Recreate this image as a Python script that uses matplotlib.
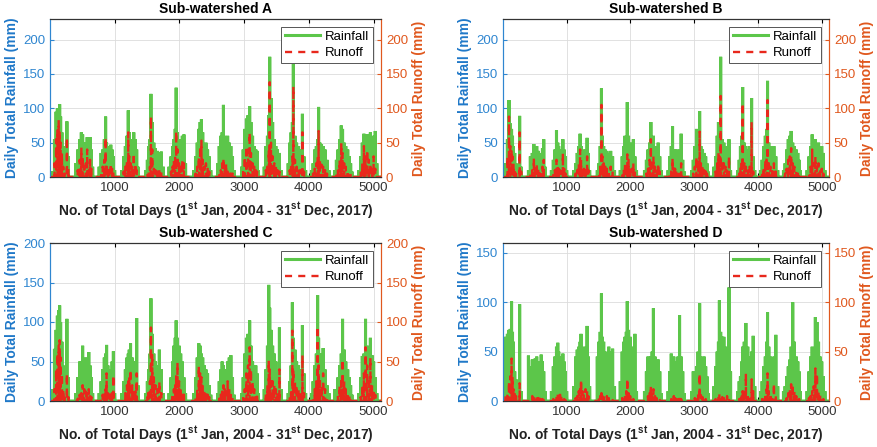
import numpy as np
import matplotlib
matplotlib.use("Agg")
import matplotlib.pyplot as plt
from matplotlib.lines import Line2D

plt.rcParams['font.family'] = ['Liberation Sans', 'DejaVu Sans']
plt.rcParams['mathtext.fontset'] = 'custom'
plt.rcParams['mathtext.rm'] = 'Liberation Sans'
plt.rcParams['mathtext.bf'] = 'Liberation Sans:bold'

# daily record, 1 Jan 2004 - 31 Dec 2017
n_days = 5114

# days (day number) of the rain events, one row per year
rain_days = [
    40, 70, 95, 115, 135, 150, 165, 185, 205, 225, 262, 285,
    400, 430, 460, 485, 505, 530, 555, 575, 600, 620, 640, 660,
    760, 790, 815, 840, 860, 875, 895, 915, 940, 960, 980, 1000,
    1110, 1140, 1165, 1190, 1210, 1225, 1245, 1270, 1295, 1320, 1340, 1360,
    1480, 1505, 1525, 1545, 1560, 1580, 1605, 1630, 1660, 1690, 1720, 1750,
    1840, 1870, 1895, 1915, 1935, 1950, 1970, 1995, 2020, 2045, 2070, 2095,
    2220, 2250, 2275, 2300, 2320, 2340, 2360, 2385, 2410, 2435, 2460, 2485,
    2590, 2615, 2640, 2660, 2680, 2700, 2720, 2745, 2770, 2795, 2820, 2845,
    2960, 2985, 3010, 3035, 3060, 3085, 3105, 3130, 3155, 3180, 3200, 3220,
    3310, 3335, 3360, 3380, 3395, 3415, 3440, 3465, 3490, 3515, 3545, 3570,
    3680, 3705, 3725, 3745, 3760, 3785, 3810, 3840, 3870, 3900, 3925, 3950,
    4040, 4065, 4090, 4115, 4135, 4150, 4170, 4195, 4220, 4250, 4280, 4310,
    4400, 4425, 4450, 4475, 4500, 4520, 4545, 4570, 4600, 4625, 4645, 4665,
    4770, 4800, 4825, 4850, 4875, 4900, 4925, 4950, 4975, 5000, 5025, 5050,
]

# daily rainfall (mm) on those days
rain_A = [
    8, 55, 95, 100, 92, 106, 88, 65, 45, 20, 81, 30,
    20, 40, 55, 65, 62, 50, 45, 58, 35, 58, 40, 15,
    15, 35, 40, 55, 88, 50, 45, 38, 47, 40, 30, 10,
    10, 30, 45, 60, 97, 65, 55, 50, 65, 55, 40, 15,
    10, 25, 45, 55, 121, 80, 50, 42, 38, 36, 37, 15,
    15, 30, 45, 55, 70, 130, 65, 55, 50, 60, 62, 20,
    10, 30, 50, 70, 80, 84, 65, 45, 50, 40, 30, 10,
    20, 45, 60, 65, 105, 60, 55, 60, 50, 45, 30, 10,
    15, 40, 70, 85, 90, 103, 80, 60, 45, 40, 38, 10,
    15, 45, 60, 90, 175, 115, 80, 55, 45, 40, 35, 10,
    20, 50, 65, 80, 170, 60, 50, 45, 40, 92, 30, 10,
    10, 20, 40, 45, 55, 102, 50, 48, 45, 40, 25, 10,
    10, 25, 40, 55, 75, 70, 50, 45, 40, 30, 20, 8,
    10, 30, 50, 63, 55, 62, 50, 65, 45, 60, 67, 20,
]
rain_B = [
    20, 55, 112, 78, 70, 60, 45, 35, 20, 10, 89, 15,
    10, 30, 35, 48, 40, 45, 38, 35, 30, 42, 55, 15,
    10, 25, 40, 68, 50, 45, 40, 35, 55, 40, 30, 10,
    10, 20, 35, 45, 63, 45, 40, 35, 40, 57, 35, 10,
    10, 20, 45, 129, 60, 45, 40, 38, 35, 38, 30, 10,
    10, 30, 45, 60, 55, 109, 60, 50, 45, 55, 30, 10,
    10, 25, 40, 50, 80, 45, 60, 45, 40, 50, 30, 10,
    10, 30, 45, 74, 40, 35, 40, 35, 40, 63, 25, 8,
    10, 25, 45, 70, 60, 96, 45, 40, 35, 30, 20, 8,
    15, 30, 60, 80, 70, 175, 55, 50, 45, 40, 55, 10,
    10, 25, 45, 60, 131, 50, 45, 40, 45, 115, 30, 10,
    10, 25, 45, 60, 70, 140, 50, 45, 40, 45, 30, 10,
    10, 20, 40, 55, 60, 67, 50, 45, 40, 35, 25, 10,
    10, 30, 45, 62, 50, 55, 45, 50, 40, 45, 35, 10,
]
rain_C = [
    15, 66, 90, 108, 115, 121, 100, 75, 45, 20, 104, 30,
    10, 30, 50, 45, 70, 50, 55, 45, 62, 45, 30, 10,
    10, 25, 40, 55, 60, 71, 45, 40, 40, 50, 63, 10,
    10, 25, 40, 55, 60, 65, 73, 55, 50, 45, 105, 20,
    10, 25, 40, 60, 130, 85, 60, 50, 45, 65, 40, 10,
    10, 30, 50, 70, 80, 102, 80, 70, 60, 50, 30, 10,
    10, 30, 55, 73, 70, 60, 55, 45, 40, 35, 20, 8,
    10, 25, 40, 50, 45, 35, 40, 50, 55, 58, 30, 8,
    10, 30, 60, 80, 85, 102, 70, 50, 45, 45, 35, 10,
    15, 40, 70, 147, 118, 90, 70, 60, 50, 40, 93, 15,
    10, 25, 45, 125, 80, 65, 50, 45, 40, 96, 35, 10,
    10, 25, 45, 60, 134, 80, 60, 50, 67, 40, 20, 10,
    15, 15, 30, 45, 60, 104, 65, 50, 40, 30, 20, 8,
    10, 30, 57, 60, 104, 70, 60, 80, 58, 50, 30, 10,
]
rain_D = [
    65, 68, 72, 73, 101, 70, 60, 30, 22, 15, 98, 10,
    46, 35, 42, 40, 43, 45, 38, 40, 47, 40, 30, 10,
    10, 35, 45, 55, 59, 50, 45, 40, 48, 40, 30, 10,
    15, 45, 52, 55, 60, 68, 55, 50, 55, 76, 45, 15,
    45, 60, 70, 109, 65, 60, 50, 45, 55, 50, 53, 15,
    20, 50, 60, 65, 70, 101, 72, 65, 55, 50, 68, 10,
    10, 30, 45, 40, 45, 50, 94, 45, 40, 42, 30, 8,
    10, 30, 48, 40, 45, 40, 35, 45, 87, 45, 30, 8,
    10, 30, 30, 35, 50, 99, 45, 40, 45, 35, 25, 8,
    15, 35, 50, 60, 102, 70, 65, 65, 55, 45, 115, 30,
    10, 20, 25, 40, 55, 60, 79, 55, 45, 50, 66, 15,
    10, 20, 35, 45, 60, 90, 55, 45, 40, 45, 67, 15,
    10, 15, 25, 35, 42, 55, 100, 60, 45, 40, 30, 10,
    10, 30, 45, 55, 45, 85, 80, 60, 45, 40, 25, 10,
]

# daily runoff (mm) on the same days
runoff_A = [
    0, 20, 55, 70, 83, 68, 50, 35, 15, 5, 58, 12,
    0, 10, 25, 43, 30, 15, 20, 40, 10, 25, 12, 0,
    0, 8, 15, 25, 58, 20, 15, 10, 20, 12, 8, 0,
    0, 8, 15, 25, 65, 30, 20, 15, 35, 20, 10, 0,
    0, 5, 10, 15, 88, 40, 12, 10, 8, 10, 8, 0,
    0, 8, 15, 25, 30, 67, 40, 20, 15, 25, 20, 0,
    0, 5, 15, 30, 45, 53, 25, 15, 20, 12, 8, 0,
    0, 5, 10, 20, 28, 15, 20, 10, 8, 5, 5, 0,
    0, 10, 30, 45, 40, 65, 35, 20, 15, 10, 8, 0,
    0, 10, 20, 40, 138, 50, 30, 20, 15, 10, 8, 0,
    0, 10, 20, 30, 132, 25, 15, 12, 10, 65, 8, 0,
    0, 5, 12, 20, 30, 67, 25, 18, 15, 10, 5, 0,
    0, 5, 15, 25, 50, 35, 20, 15, 10, 8, 5, 0,
    0, 8, 20, 45, 30, 40, 25, 20, 15, 30, 12, 0,
]
runoff_B = [
    0, 30, 88, 45, 40, 30, 20, 10, 5, 0, 65, 8,
    0, 5, 10, 28, 15, 20, 12, 10, 8, 15, 25, 0,
    0, 5, 10, 25, 15, 12, 10, 8, 35, 12, 5, 0,
    0, 5, 10, 20, 40, 25, 15, 12, 15, 30, 10, 0,
    0, 5, 15, 105, 30, 20, 15, 12, 10, 15, 8, 0,
    0, 5, 12, 20, 18, 33, 25, 15, 12, 20, 8, 0,
    0, 5, 12, 25, 55, 20, 30, 15, 12, 20, 8, 0,
    0, 5, 10, 28, 15, 12, 10, 8, 10, 20, 5, 0,
    0, 5, 15, 30, 25, 66, 20, 15, 10, 8, 5, 0,
    0, 8, 20, 35, 30, 118, 25, 20, 15, 12, 30, 0,
    0, 5, 15, 25, 108, 20, 15, 12, 15, 80, 8, 0,
    0, 5, 15, 25, 30, 112, 20, 15, 12, 20, 8, 0,
    0, 5, 12, 25, 30, 42, 20, 15, 10, 8, 5, 0,
    0, 5, 15, 40, 20, 30, 15, 20, 10, 12, 5, 0,
]
runoff_C = [
    0, 15, 40, 60, 70, 77, 55, 35, 15, 5, 35, 5,
    0, 3, 8, 10, 20, 15, 12, 10, 15, 8, 5, 0,
    0, 3, 8, 12, 15, 35, 10, 8, 10, 12, 33, 0,
    0, 3, 10, 20, 25, 30, 40, 20, 15, 12, 35, 0,
    0, 5, 15, 25, 93, 60, 30, 20, 15, 25, 10, 0,
    0, 5, 10, 15, 20, 35, 49, 25, 15, 12, 8, 0,
    0, 5, 15, 45, 35, 30, 20, 12, 10, 8, 5, 0,
    0, 3, 8, 12, 20, 15, 12, 25, 15, 10, 5, 0,
    0, 5, 15, 35, 45, 68, 40, 25, 15, 10, 8, 0,
    0, 10, 20, 52, 40, 30, 25, 20, 15, 12, 40, 0,
    0, 5, 15, 89, 40, 25, 20, 15, 12, 58, 10, 0,
    0, 5, 15, 25, 95, 45, 30, 20, 35, 15, 5, 0,
    0, 3, 10, 20, 30, 53, 25, 15, 10, 8, 5, 0,
    0, 5, 20, 35, 68, 45, 30, 55, 20, 15, 8, 0,
]
runoff_D = [
    5, 8, 20, 25, 43, 25, 12, 8, 5, 3, 18, 0,
    0, 2, 5, 3, 5, 4, 3, 5, 4, 2, 1, 0,
    0, 2, 3, 5, 8, 4, 10, 5, 3, 2, 1, 0,
    0, 3, 5, 10, 12, 22, 10, 8, 12, 10, 5, 0,
    0, 3, 5, 8, 5, 4, 3, 5, 3, 2, 1, 0,
    0, 3, 5, 8, 10, 23, 8, 5, 3, 2, 1, 0,
    0, 2, 5, 10, 16, 8, 12, 5, 3, 2, 1, 0,
    0, 1, 2, 3, 5, 3, 2, 3, 5, 2, 1, 0,
    0, 2, 3, 5, 8, 28, 6, 4, 3, 2, 1, 0,
    0, 2, 3, 5, 8, 5, 4, 3, 2, 5, 3, 0,
    0, 2, 5, 8, 10, 12, 28, 8, 5, 22, 10, 0,
    0, 2, 5, 8, 12, 28, 10, 8, 5, 18, 6, 0,
    0, 2, 3, 8, 12, 17, 17, 10, 5, 3, 2, 0,
    0, 3, 5, 10, 15, 33, 28, 10, 6, 4, 2, 0,
]

titles = ['Sub-watershed A', 'Sub-watershed B', 'Sub-watershed C', 'Sub-watershed D']
rain_sets = [rain_A, rain_B, rain_C, rain_D]
runoff_sets = [runoff_A, runoff_B, runoff_C, runoff_D]
y_tops = [230, 230, 200, 160]
x_ticks = [1000, 2000, 3000, 4000, 5000]

GREEN = '#5cc64a'
RED = '#e8281c'
BLUE = '#2f86d0'
ORANGE = '#e0581e'
RED_DASH = (3.0, 2.6)

# axes boxes in pixels (left, top, right, bottom) of the 878x447 figure
W, H = 878, 447
boxes = [(50, 19, 381, 177), (503, 19, 829, 177),
         (50, 243, 381, 401), (503, 243, 829, 401)]


def daily(values):
    s = np.zeros(n_days)
    s[np.array(rain_days) - 1] = values
    return s


fig = plt.figure(figsize=(W / 100, H / 100), dpi=100)
days = np.arange(1, n_days + 1)

for i in range(4):
    l, t, r, b = boxes[i]
    ax = fig.add_axes([l / W, 1 - b / H, (r - l) / W, (b - t) / H])
    ax2 = ax.twinx()

    ax.plot(days, daily(rain_sets[i]), color=GREEN, lw=2.2, solid_joinstyle='miter')
    ax2.plot(days, daily(runoff_sets[i]), color=RED, lw=1.7, dashes=RED_DASH)

    top = y_tops[i]
    yt = np.arange(0, top + 1, 50)
    for a in (ax, ax2):
        a.set_xlim(1, n_days)
        a.set_ylim(0, top)
        a.set_yticks(yt)
    ax.set_xticks(x_ticks)
    ax.grid(True, color='#dcdcdc', lw=0.6)
    ax.set_axisbelow(True)

    ax.tick_params(axis='y', colors=BLUE, labelsize=9.5, direction='in', length=3)
    ax2.tick_params(axis='y', colors=ORANGE, labelsize=9.5, direction='in', length=3)
    ax.tick_params(axis='x', labelsize=9.5, direction='in', length=3, top=True,
                   labelcolor='#333333')

    ax2.spines['left'].set_color(BLUE)
    ax2.spines['right'].set_color(ORANGE)
    ax2.spines['top'].set_color('#333333')
    ax2.spines['bottom'].set_color('#333333')
    ax.spines['left'].set_color(BLUE)
    ax.spines['right'].set_color(ORANGE)
    for sp in ax2.spines.values():
        sp.set_linewidth(0.8)

    ax.set_ylabel('Daily Total Rainfall (mm)', color='#1f78c8', fontsize=10,
                  fontweight='bold', labelpad=3)
    ax2.set_ylabel('Daily Total Runoff (mm)', color=ORANGE, fontsize=10,
                   fontweight='bold', labelpad=3)
    ax.set_xlabel(r'No. of Total Days (1$^{\bf st}$ Jan, 2004 - 31$^{\bf st}$ Dec, 2017)',
                  fontsize=10, fontweight='bold', color='#222222', labelpad=5)
    ax.set_title(titles[i], fontsize=10, fontweight='bold', pad=4)

    handles = [Line2D([], [], color=GREEN, lw=2.2),
               Line2D([], [], color=RED, lw=1.7, dashes=RED_DASH)]
    leg = ax2.legend(handles, ['Rainfall', 'Runoff'], loc='upper right',
                     fontsize=9.5, handlelength=2.6, fancybox=False, framealpha=1,
                     borderaxespad=0.6, borderpad=0.3, labelspacing=0.3,
                     handletextpad=0.4)
    leg.get_frame().set_edgecolor('#555555')
    leg.get_frame().set_linewidth(0.7)

fig.savefig('out.png', dpi=100)
